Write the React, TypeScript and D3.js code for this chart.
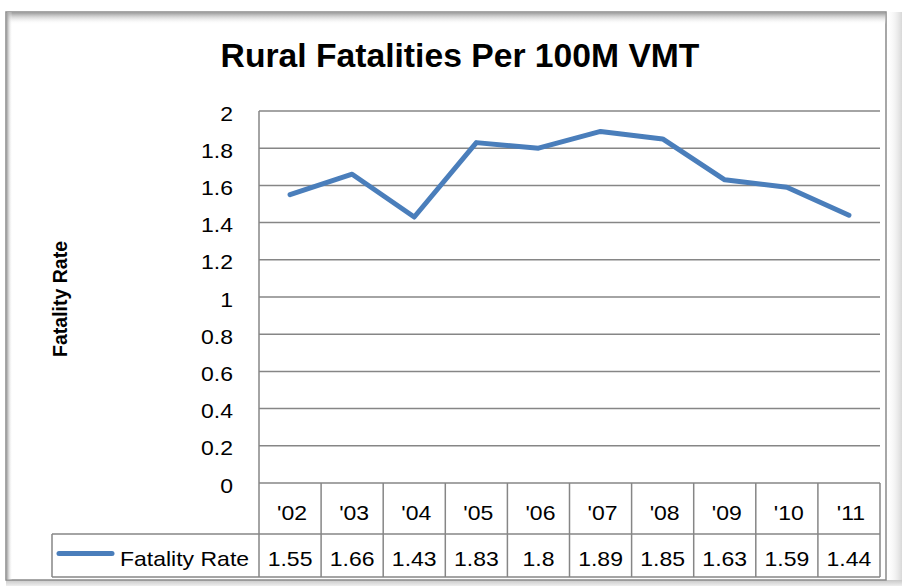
import React from "react";
import * as d3 from "d3";

const years = ["'02", "'03", "'04", "'05", "'06", "'07", "'08", "'09", "'10", "'11"];
const fatalityRate = [1.55, 1.66, 1.43, 1.83, 1.8, 1.89, 1.85, 1.63, 1.59, 1.44];
const yTicks = [0, 0.2, 0.4, 0.6, 0.8, 1, 1.2, 1.4, 1.6, 1.8, 2];
const seriesName = "Fatality Rate";
const chartTitle = "Rural Fatalities Per 100M VMT";

const W = 902;
const H = 586;
const plot = { left: 259, right: 880, top: 111, bottom: 483 };
const rowCat = 534;
const rowEnd = 577;
const legendLeft = 52;
const gridColor = "#868686";
const lineColor = "#4a7ebb";
const font = "'Liberation Sans', Arial, sans-serif";
const stretch = 1.15; // source text is a bit wide

// text that is stretched horizontally like the source image
function Label(props: { x: number; y: number; anchor?: string; size?: number; bold?: boolean; sx?: number; children: React.ReactNode }) {
  const { x, y, anchor = "start", size = 20, bold = false, sx = stretch, children } = props;
  return (
    <text
      transform={`translate(${x},${y}) scale(${sx},1)`}
      textAnchor={anchor}
      fontFamily={font}
      fontWeight={bold ? "bold" : "normal"}
      fontSize={size}
      fill="#000"
    >
      {children}
    </text>
  );
}

export default function App() {
  const x = d3.scaleBand<string>().domain(years).range([plot.left, plot.right]);
  const y = d3.scaleLinear().domain([0, 2]).range([plot.bottom, plot.top]);

  const path = d3
    .line<number>()
    .x((_, i) => (x(years[i]) as number) + x.bandwidth() / 2)
    .y((d) => y(d))(fatalityRate);

  return (
    <svg width={W} height={H} style={{ position: "absolute", left: 0, top: 0 }}>
      <defs>
        <linearGradient id="shTop" x1="0" y1="0" x2="0" y2="1">
          <stop offset="0" stopColor="#9a9a9a" />
          <stop offset="1" stopColor="#ffffff" stopOpacity="0" />
        </linearGradient>
        <linearGradient id="shLeft" x1="0" y1="0" x2="1" y2="0">
          <stop offset="0" stopColor="#9a9a9a" />
          <stop offset="1" stopColor="#ffffff" stopOpacity="0" />
        </linearGradient>
        <linearGradient id="shRight" x1="0" y1="0" x2="1" y2="0">
          <stop offset="0" stopColor="#ffffff" stopOpacity="0" />
          <stop offset="1" stopColor="#d8d8d8" />
        </linearGradient>
        <linearGradient id="shBottom" x1="0" y1="0" x2="0" y2="1">
          <stop offset="0" stopColor="#c8c8c8" />
          <stop offset="1" stopColor="#eeeeee" />
        </linearGradient>
      </defs>
      <rect x={0} y={0} width={W} height={H} fill="#fff" />
      {/* frame with soft shadow */}
      <rect x={886} y={12} width={16} height={574} fill="url(#shRight)" />
      <rect x={6} y={580} width={896} height={6} fill="url(#shBottom)" />
      <rect x={6} y={12} width={880} height={568} fill="#fff" stroke="#8a8a8a" strokeWidth={1.5} />
      <rect x={7} y={12.5} width={879} height={12} fill="url(#shTop)" />
      <rect x={6.5} y={12} width={6} height={568} fill="url(#shLeft)" />

      <Label x={460} y={67} anchor="middle" size={33} bold sx={1.02}>
        {chartTitle}
      </Label>

      {/* gridlines */}
      {yTicks.map((t) => (
        <line key={t} x1={plot.left} x2={plot.right} y1={y(t)} y2={y(t)} stroke={gridColor} strokeWidth={1.5} />
      ))}
      <line x1={plot.left} x2={plot.left} y1={plot.top} y2={rowEnd} stroke={gridColor} strokeWidth={1.5} />

      {/* y tick labels */}
      {yTicks.map((t) => (
        <Label key={t} x={233} y={y(t) + 9.5} anchor="end">
          {d3.format("~g")(t)}
        </Label>
      ))}

      <text
        transform={`translate(67,${(plot.top + plot.bottom) / 2 + 2}) rotate(-90)`}
        textAnchor="middle"
        fontFamily={font}
        fontWeight="bold"
        fontSize={19.5}
        fill="#000"
      >
        Fatality Rate
      </text>

      {/* data table */}
      {years.map((yr, i) => {
        const x0 = x(yr) as number;
        return (
          <g key={yr}>
            <line x1={x0 + x.bandwidth()} x2={x0 + x.bandwidth()} y1={plot.bottom} y2={rowEnd} stroke={gridColor} strokeWidth={1.5} />
            <Label x={x0 + x.bandwidth() / 2 + 2} y={520} anchor="middle">
              {yr}
            </Label>
            <Label x={x0 + x.bandwidth() / 2} y={566} anchor="middle">
              {fatalityRate[i]}
            </Label>
          </g>
        );
      })}
      <line x1={legendLeft} x2={plot.right} y1={rowCat} y2={rowCat} stroke={gridColor} strokeWidth={1.5} />
      <line x1={legendLeft} x2={plot.right} y1={rowEnd} y2={rowEnd} stroke={gridColor} strokeWidth={1.5} />
      <line x1={legendLeft} x2={legendLeft} y1={rowCat} y2={rowEnd} stroke={gridColor} strokeWidth={1.5} />
      <line x1={59} x2={112} y1={553.5} y2={553.5} stroke={lineColor} strokeWidth={5} strokeLinecap="round" />
      <Label x={120} y={566}>
        {seriesName}
      </Label>

      <path d={path ?? ""} fill="none" stroke={lineColor} strokeWidth={5} strokeLinejoin="round" strokeLinecap="round" />
    </svg>
  );
}
